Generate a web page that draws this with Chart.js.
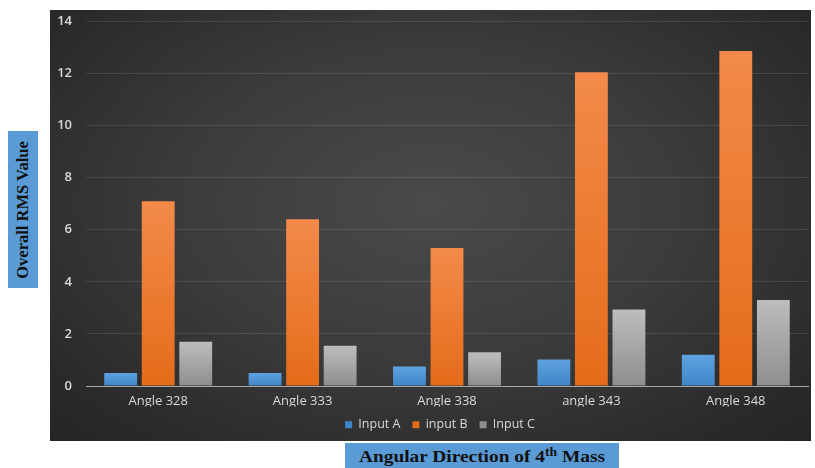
<!DOCTYPE html>
<html>
<head>
<meta charset="utf-8">
<script src="https://cdn.jsdelivr.net/npm/chart.js@4.4.1/dist/chart.umd.min.js"></script>
<style>
  html, body { margin: 0; padding: 0; background: #ffffff; width: 815px; height: 468px; overflow: hidden; }
  #panel {
    position: absolute; left: 50px; top: 10px; width: 761px; height: 431px;
    background: radial-gradient(ellipse at 50% 45%, #4a4a4a 0%, #3c3c3c 45%, #2a2a2a 85%, #252525 100%);
  }
  #c { position: absolute; left: 0; top: 0; }
  #ytitle {
    position: absolute; left: 8px; top: 131px; width: 30px; height: 157px;
    background: #5b9bd5;
  }
  #ytitle span {
    position: absolute; left: 50%; top: 50%;
    transform: translate(-50%, -50%) rotate(-90deg);
    white-space: nowrap;
    font: bold 16.5px "Liberation Serif", "Times New Roman", serif; color: #111;
  }
  #xtitle {
    position: absolute; left: 345px; top: 443px; width: 274px; height: 30px;
    background: #5b9bd5;
  }
  #xtitle span {
    position: absolute; left: 50%; top: 0;
    transform: translateX(-50%) scaleX(1.14);
    white-space: nowrap;
    font: bold 17px "Liberation Serif", "Times New Roman", serif; color: #111;
    line-height: 27px;
  }
  #xtitle sup { font-size: 12px; vertical-align: 0; position: relative; top: -6px; }
</style>
</head>
<body>
<div id="panel"><canvas id="c" width="761" height="431"></canvas></div>
<div id="ytitle"><span>Overall RMS Value</span></div>
<div id="xtitle"><span>Angular Direction of 4<sup>th</sup> Mass</span></div>
<script>
const categories = ["Angle 328", "Angle 333", "Angle 338", "angle 343", "Angle 348"];
const seriesNames = ["Input A", "input B", "Input C"];
const inputA = [0.5, 0.5, 0.75, 1.02, 1.2];
const inputB = [7.1, 6.4, 5.3, 12.05, 12.87];
const inputC = [1.7, 1.55, 1.3, 2.94, 3.3];
const yTicks = [0, 2, 4, 6, 8, 10, 12, 14];

const palette = [
  { solid: "#5b9bd5", top: "#5fa2e0", bottom: "#3f86c8" },
  { solid: "#ed7d31", top: "#f38a4a", bottom: "#e46c1a" },
  { solid: "#a5a5a5", top: "#bdbdbd", bottom: "#8e8e8e" }
];

function barFill(i) {
  return function (ctx) {
    const p = palette[i];
    if (ctx.type !== "data") return p.solid;
    const chart = ctx.chart;
    const ys = chart.scales && chart.scales.y;
    if (!chart.chartArea || !ys) return p.solid;
    const v = ctx.raw;
    const yTop = ys.getPixelForValue(v);
    const yBot = ys.getPixelForValue(0);
    if (!isFinite(yTop) || !isFinite(yBot) || yTop === yBot) return p.solid;
    const g = chart.ctx.createLinearGradient(0, yTop, 0, yBot);
    g.addColorStop(0, p.top);
    g.addColorStop(1, p.bottom);
    return g;
  };
}

const values = [inputA, inputB, inputC];
const datasets = values.map((arr, i) => ({
  label: seriesNames[i],
  data: arr,
  backgroundColor: barFill(i),
  borderWidth: 0,
  categoryPercentage: 0.78,
  barPercentage: 0.875
}));

const legendShift = {
  id: "legendShift",
  afterLayout(chart) {
    if (chart.legend) { chart.legend.left += 11; chart.legend.right += 11; }
  }
};

new Chart(document.getElementById("c"), {
  type: "bar",
  data: { labels: categories, datasets },
  plugins: [legendShift],
  options: {
    responsive: false,
    animation: false,
    layout: { padding: { top: 11.5, right: 3, left: 0, bottom: 0 } },
    plugins: {
      legend: {
        position: "bottom",
        labels: {
          color: "#d9d9d9",
          boxWidth: 7, boxHeight: 7,
          padding: 12,
          font: { family: "'Open Sans', sans-serif", size: 12.5 }
        }
      },
      tooltip: { enabled: false }
    },
    scales: {
      x: {
        afterFit: (s) => { s.height = 20.5; s.paddingLeft = 0; s.paddingRight = 0; },
        grid: { display: false, drawTicks: false },
        border: { display: true, color: "#a6a6a6", width: 1 },
        ticks: {
          color: "#d9d9d9", padding: 7,
          font: { family: "'Open Sans', sans-serif", size: 13 }
        }
      },
      y: {
        min: 0, max: 14,
        afterFit: (s) => { s.width = 36; s.paddingTop = 0; s.paddingBottom = 0; },
        afterBuildTicks: (s) => { s.ticks = yTicks.map(v => ({ value: v })); },
        grid: {
          drawTicks: false,
          color: (ctx) => ctx.tick && ctx.tick.value === 0 ? "rgba(0,0,0,0)" : "rgba(255,255,255,0.10)"
        },
        border: { display: false },
        ticks: {
          color: "#d9d9d9", padding: 14,
          font: { family: "'Open Sans', sans-serif", size: 13, weight: "600" }
        }
      }
    }
  }
});
</script>
</body>
</html>
